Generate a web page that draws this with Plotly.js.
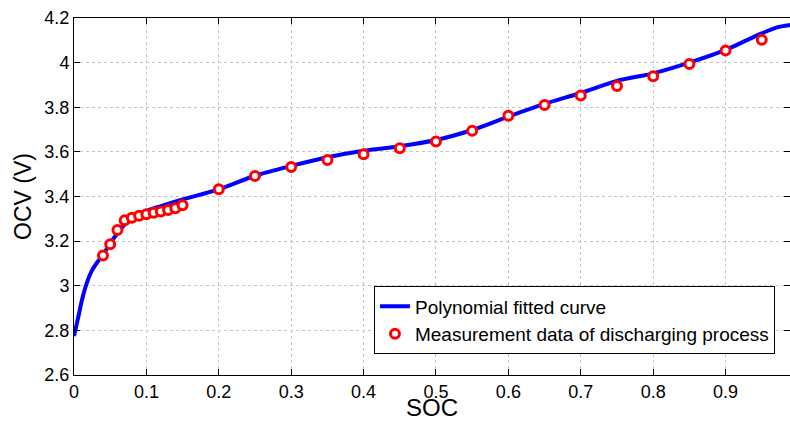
<!DOCTYPE html>
<html>
<head>
<meta charset="utf-8">
<script src="https://cdn.plot.ly/plotly-3.0.1.min.js"></script>
<style>html,body{margin:0;padding:0;background:#fff;}#chart{width:790px;height:421px;}</style>
</head>
<body>
<div id="chart"></div>
<script>
// Polynomial fitted curve
const socCurve = [0, 0.006, 0.011, 0.0175, 0.024, 0.031, 0.04, 0.05, 0.06, 0.07, 0.087, 0.1, 0.12, 0.15, 0.2, 0.25, 0.3, 0.35, 0.4, 0.45, 0.5, 0.55, 0.6, 0.65, 0.7, 0.75, 0.8, 0.85, 0.9, 0.925, 0.95, 0.97, 0.99];
const ocvCurve = [2.775, 2.861, 2.936, 3.011, 3.063, 3.100, 3.138, 3.19, 3.235, 3.275, 3.31, 3.335, 3.357, 3.387, 3.432, 3.493, 3.537, 3.576, 3.605, 3.625, 3.653, 3.698, 3.758, 3.815, 3.864, 3.918, 3.952, 4.0, 4.057, 4.094, 4.131, 4.157, 4.169];

// Measurement data of discharging process
const socMeas = [0.04, 0.05, 0.06, 0.07, 0.08, 0.09, 0.10, 0.11, 0.12, 0.13, 0.14, 0.15, 0.2, 0.25, 0.3, 0.35, 0.4, 0.45, 0.5, 0.55, 0.6, 0.65, 0.7, 0.75, 0.8, 0.85, 0.9, 0.95];
const ocvMeas = [3.136, 3.186, 3.250, 3.293, 3.305, 3.314, 3.320, 3.327, 3.333, 3.339, 3.347, 3.361, 3.432, 3.492, 3.532, 3.564, 3.589, 3.616, 3.647, 3.695, 3.762, 3.810, 3.853, 3.895, 3.939, 3.994, 4.054, 4.103];

const seriesNames = ["Polynomial fitted curve", "Measurement data of discharging process"];
const xTitle = "SOC";
const yTitle = "OCV (V)";

const font = "Liberation Sans, Arial, sans-serif";

const traces = [
  {
    x: socCurve, y: ocvCurve, mode: "lines", name: seriesNames[0],
    line: {color: "#0000ff", width: 4, shape: "spline", smoothing: 0.8}
  },
  {
    x: socMeas, y: ocvMeas, mode: "markers", name: seriesNames[1],
    marker: {symbol: "circle", size: 9, color: "#ffffff", line: {color: "#ff0000", width: 3}}
  }
];

const axisCommon = {
  showline: true, linecolor: "#000", linewidth: 1, mirror: "ticks",
  ticks: "inside", ticklen: 6, tickcolor: "#000", tickwidth: 1,
  showgrid: true, gridcolor: "#c4c4c4", griddash: "dot", gridwidth: 1,
  zeroline: false,
  tickfont: {family: font, size: 18, color: "#000"}
};

const layout = {
  width: 790, height: 421,
  margin: {l: 74, r: 0, t: 18, b: 46},
  paper_bgcolor: "#fff", plot_bgcolor: "#fff",
  font: {family: font, color: "#000"},
  showlegend: true,
  xaxis: Object.assign({}, axisCommon, {
    range: [0, 0.989], tick0: 0, dtick: 0.1,
    title: {text: xTitle, font: {family: font, size: 24, color: "#000"}, standoff: 3}
  }),
  yaxis: Object.assign({}, axisCommon, {
    range: [2.6, 4.2], tick0: 2.6, dtick: 0.2,
    title: {text: yTitle, font: {family: font, size: 23, color: "#000"}, standoff: 6}
  }),
  legend: {
    x: 0.979, xanchor: "right", y: 0.058, yanchor: "bottom",
    bgcolor: "#fff", bordercolor: "#000", borderwidth: 1,
    font: {family: font, size: 19, color: "#000"},
    tracegroupgap: 0
  }
};

Plotly.newPlot("chart", traces, layout, {staticPlot: true, displayModeBar: false});
</script>
</body>
</html>
